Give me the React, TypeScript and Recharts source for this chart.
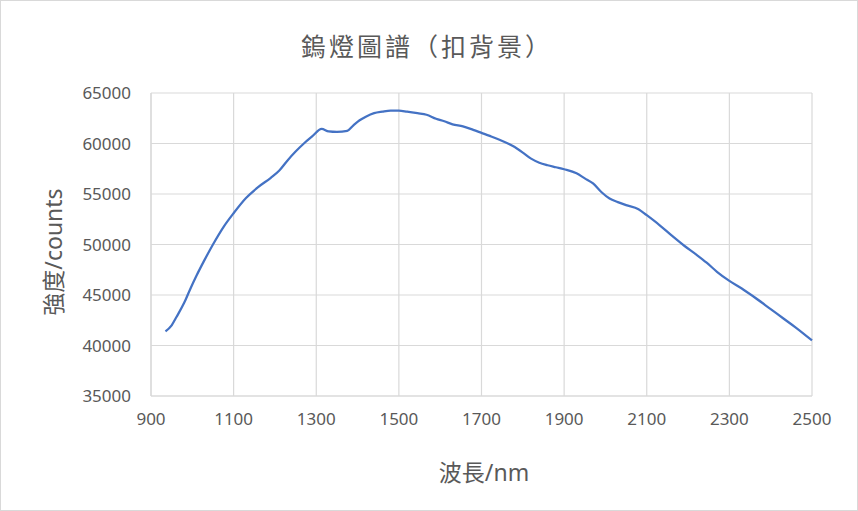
import { LineChart, Line, XAxis, YAxis, CartesianGrid } from "recharts";

const wavelengths = [
  935, 950, 962, 980, 994, 1010, 1030, 1050, 1075, 1100, 1130, 1160, 1190, 1210,
  1230, 1250, 1270, 1290, 1313, 1330, 1350, 1375, 1390, 1405, 1420, 1440, 1460,
  1480, 1500, 1520, 1545, 1567, 1590, 1610, 1630, 1655, 1680, 1700, 1720, 1745,
  1776, 1800, 1820, 1840, 1860, 1880, 1900, 1930, 1950, 1970, 1990, 2010, 2030,
  2050, 2080, 2100, 2130, 2160, 2190, 2220, 2245, 2270, 2300, 2330, 2360, 2400,
  2430, 2460, 2500,
];

const intensity = [
  41400, 42000, 42850, 44200, 45500, 46900, 48500, 50000, 51700, 53100, 54600,
  55700, 56600, 57300, 58300, 59200, 60000, 60700, 61450, 61200, 61150, 61250,
  61800, 62300, 62650, 63000, 63150, 63250, 63250, 63150, 63000, 62850, 62450,
  62200, 61900, 61700, 61350, 61050, 60750, 60350, 59750, 59100, 58500, 58100,
  57850, 57650, 57450, 57050, 56550, 56050, 55200, 54550, 54200, 53900, 53500,
  52900, 51950, 50900, 49900, 49000, 48200, 47300, 46400, 45650, 44800, 43600,
  42700, 41800, 40500,
];

const xTicks = [900, 1100, 1300, 1500, 1700, 1900, 2100, 2300, 2500];
const yTicks = [35000, 40000, 45000, 50000, 55000, 60000, 65000];

const data = wavelengths.map((w, i) => ({ nm: w, counts: intensity[i] }));

const font = '"Noto Sans", "Noto Sans CJK TC", sans-serif';
const textColor = "#595959";

export default function App() {
  return (
    <div
      style={{
        position: "absolute",
        left: 0,
        top: 0,
        width: 858,
        height: 511,
        boxSizing: "border-box",
        border: "1px solid #d9d9d9",
        background: "#fff",
        fontFamily: font,
      }}
    >
      <div
        style={{
          position: "absolute",
          left: 426,
          top: 44,
          transform: "translate(-50%, -50%)",
          whiteSpace: "nowrap",
          fontSize: 25,
          letterSpacing: 3,
          color: textColor,
        }}
      >
        鎢燈圖譜（扣背景）
      </div>
      <div
        style={{
          position: "absolute",
          left: 51,
          top: 251,
          transform: "translate(-50%, -50%) rotate(-90deg)",
          whiteSpace: "nowrap",
          fontSize: 23,
          color: textColor,
        }}
      >
        強度/counts
      </div>
      <div
        style={{
          position: "absolute",
          left: 483,
          top: 470,
          transform: "translate(-50%, -50%)",
          whiteSpace: "nowrap",
          fontSize: 23,
          color: textColor,
        }}
      >
        波長/nm
      </div>
      <div style={{ position: "absolute", left: -1, top: -1 }}>
        <LineChart
          width={858}
          height={511}
          data={data}
          margin={{ top: 93, right: 46, bottom: 0, left: 0 }}
        >
          <CartesianGrid stroke="#d9d9d9" strokeWidth={1.2} />
          <XAxis
            dataKey="nm"
            type="number"
            domain={[900, 2500]}
            ticks={xTicks}
            interval={0}
            axisLine={{ stroke: "#d9d9d9", strokeWidth: 1.2 }}
            tickLine={false}
            tickSize={0}
            tickMargin={17}
            height={115}
            tick={{ fontSize: 17, fill: textColor, fontFamily: font }}
          />
          <YAxis
            type="number"
            domain={[35000, 65000]}
            ticks={yTicks}
            interval={0}
            width={151}
            axisLine={{ stroke: "#d9d9d9", strokeWidth: 1.2 }}
            tickLine={false}
            tickSize={0}
            tickMargin={20}
            tick={{ fontSize: 17, fill: textColor, fontFamily: font }}
          />
          <Line
            type="monotone"
            dataKey="counts"
            stroke="#4472C4"
            strokeWidth={2.25}
            dot={false}
            isAnimationActive={false}
          />
        </LineChart>
      </div>
    </div>
  );
}
